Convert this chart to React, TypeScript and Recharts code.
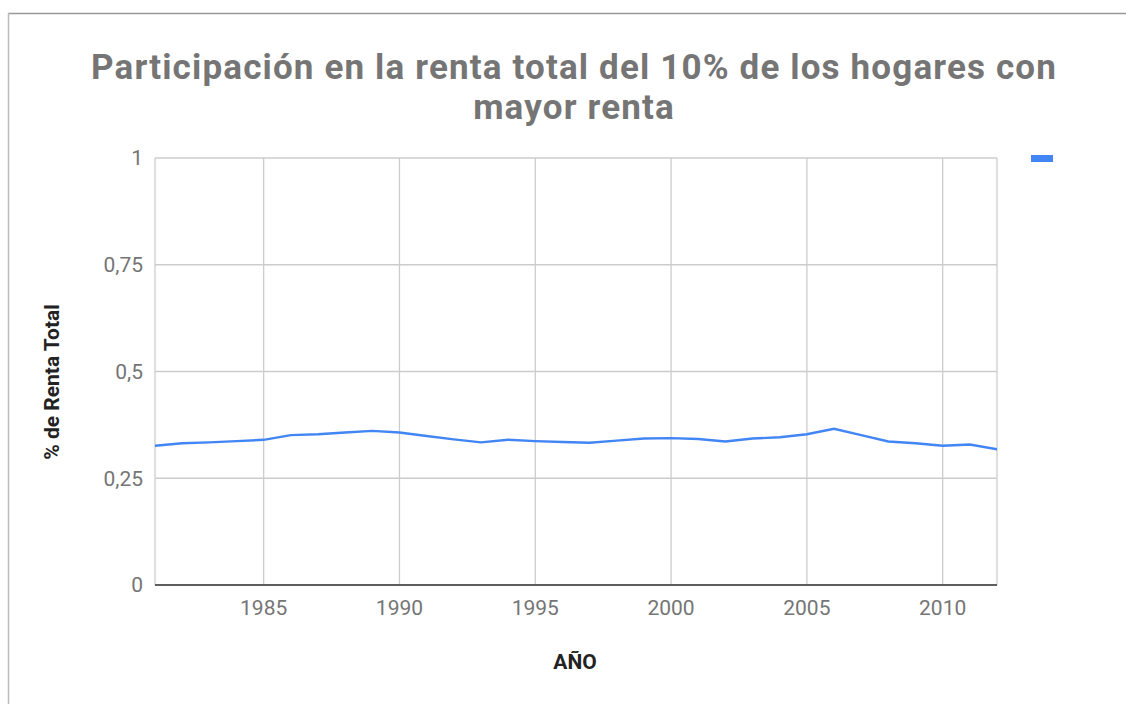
import React from "react";
import { LineChart, Line, XAxis, YAxis, CartesianGrid } from "recharts";

const years = [1981, 1982, 1983, 1984, 1985, 1986, 1987, 1988, 1989, 1990, 1991, 1992, 1993, 1994, 1995, 1996, 1997, 1998, 1999, 2000, 2001, 2002, 2003, 2004, 2005, 2006, 2007, 2008, 2009, 2010, 2011, 2012];
const shares = [0.326, 0.332, 0.334, 0.337, 0.340, 0.351, 0.353, 0.357, 0.361, 0.357, 0.349, 0.341, 0.334, 0.340, 0.337, 0.335, 0.333, 0.338, 0.343, 0.344, 0.342, 0.336, 0.343, 0.346, 0.353, 0.366, 0.351, 0.336, 0.332, 0.326, 0.329, 0.318];
const xTicks = [1985, 1990, 1995, 2000, 2005, 2010];
const yTicks = [0, 0.25, 0.5, 0.75, 1];

const titleLines = ["Participación en la renta total del 10% de los hogares con", "mayor renta"];
const yTitle = "% de Renta Total";
const xTitle = "AÑO";

const data = years.map((y, i) => ({ year: y, value: shares[i] }));

const FONT = "Roboto, 'Noto Sans', sans-serif";

export default function App() {
  return (
    <div style={{ position: "absolute", left: 0, top: 0, width: 1126, height: 704, background: "#fff", fontFamily: FONT }}>
      <LineChart width={1126} height={704} data={data} margin={{ top: 158, right: 129, bottom: 89, left: 95 }}>
        <CartesianGrid stroke="#cccccc" strokeWidth={1.3} vertical={true} horizontal={true} />
        <XAxis
          dataKey="year"
          type="number"
          domain={[1981, 2012]}
          ticks={xTicks}
          tickLine={false}
          axisLine={{ stroke: "#333", strokeWidth: 1.6 }}
          height={30}
          tickMargin={9}
          tick={{ fill: "#757575", fontSize: 21, fontFamily: FONT }}
          allowDataOverflow
        />
        <YAxis
          type="number"
          domain={[0, 1]}
          ticks={yTicks}
          tickLine={false}
          axisLine={false}
          width={60}
          tickMargin={6}
          tick={{ fill: "#757575", fontSize: 21, fontFamily: FONT }}
          tickFormatter={(v: number) => String(v).replace(".", ",")}
        />
        <Line type="linear" dataKey="value" stroke="#4285F4" strokeWidth={2.4} dot={false} isAnimationActive={false} />
      </LineChart>
      <svg width={1126} height={704} style={{ position: "absolute", left: 0, top: 0, pointerEvents: "none" }}>
        <line x1={8} y1={13.5} x2={1126} y2={13.5} stroke="#999" strokeWidth={1.5} />
        <line x1={8.5} y1={13} x2={8.5} y2={704} stroke="#bbb" strokeWidth={1.5} />
        <text textAnchor="middle" fontFamily={FONT} fontWeight="bold" fontSize={35} letterSpacing={1.15} fill="#757575">
          <tspan x={574} y={79}>{titleLines[0]}</tspan>
          <tspan x={574} y={119}>{titleLines[1]}</tspan>
        </text>
        <text x={0} y={0} transform="translate(59,382) rotate(-90)" textAnchor="middle" fontFamily={FONT} fontWeight="bold" fontSize={21} fill="#222">{yTitle}</text>
        <text x={575} y={669} textAnchor="middle" fontFamily={FONT} fontWeight="bold" fontSize={21} fill="#222">{xTitle}</text>
        <rect x={1031} y={155} width={22} height={7} fill="#4285F4" />
      </svg>
    </div>
  );
}
